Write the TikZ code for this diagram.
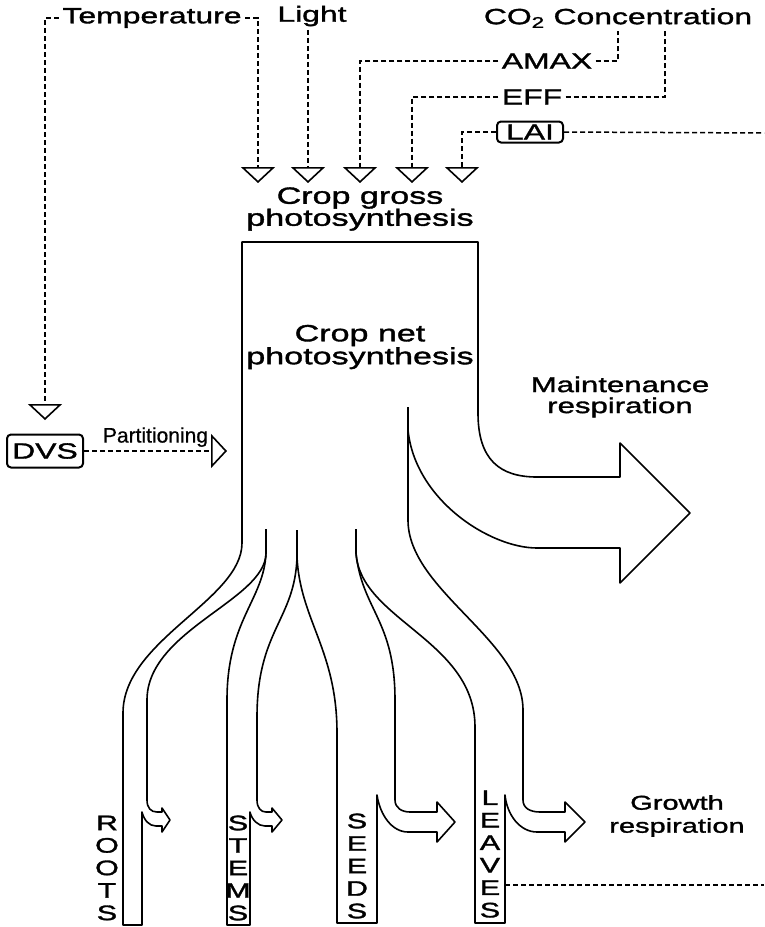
\documentclass[tikz,border=0pt]{standalone}
\usepackage{fontspec}
\setmainfont{Liberation Sans}[FakeStretch=1.45, FakeBold=1.5]
\newfontfamily\partfont{Liberation Sans}[FakeBold=0.6]
\usetikzlibrary{arrows.meta}

\tikzset{
  flow/.style={line width=1.6pt, line join=round},
  dep/.style={line width=1.5pt, dash pattern=on 5pt off 3pt},
  inflow/.style={dep, -{Triangle[open, width=34pt, length=16pt, line width=1.6pt]}},
  varbox/.style={draw, rounded corners=4pt, line width=2pt, inner sep=0pt},
  twoline/.style={align=center, inner sep=0pt},
  barletters/.style={align=center, inner sep=0pt, font=\fontsize{21}{22.5}\selectfont}
}

\begin{document}
\begin{tikzpicture}[x=1pt, y=-1pt, every node/.style={font=\fontsize{22}{22}\selectfont}]
\useasboundingbox (0,0) rectangle (764,927);

% driving variables
\node (temp) at (152,18) {Temperature};
\node (light) at (312,16) {Light};
\node (co2) at (618,18) {CO\textsubscript{2} Concentration};
\node (amax) at (547,61) {AMAX};
\node (eff) at (532,97) {EFF};
\node[varbox, minimum width=66pt, minimum height=21pt] (lai) at (530,132) {LAI};
\node[varbox, minimum width=76pt, minimum height=33pt] (dvs) at (45,451) {DVS};

% process labels
\node[twoline, font=\fontsize{23.5}{22}\selectfont] (gross) at (360,209) {Crop gross\\photosynthesis};
\node[twoline, font=\fontsize{23.5}{21}\selectfont] (net) at (360,347) {Crop net\\photosynthesis};
\node[twoline, font=\fontsize{21.5}{21}\selectfont] (maint) at (620,397) {Maintenance\\respiration};
\node[twoline, font=\fontsize{20}{23}\selectfont] (growth) at (677,816) {Growth\\respiration};

% organ names
\node[barletters] (roots) at (107,868) {R\\O\\O\\T\\S};
\node[barletters] (stems) at (238,868) {S\\T\\E\\M\\S};
\node[barletters] (seeds) at (357,866) {S\\E\\E\\D\\S};
\node[barletters] (leaves) at (490,854) {L\\E\\A\\V\\E\\S};

% triangle tips
\coordinate (tipA) at (258,183);
\coordinate (tipB) at (308,183);
\coordinate (tipC) at (360,183);
\coordinate (tipD) at (412,183);
\coordinate (tipE) at (462,183);
\coordinate (dvstip) at (45,420);
\coordinate (parttip) at (227,451);
\coordinate (laiout) at (764,133);
\coordinate (leafout) at (505,885);
\coordinate (leafend) at (764,885);

% information flows
\draw[inflow] (temp.west) -| (dvstip);
\draw[inflow] (temp.east) -| (tipA);
\draw[inflow] (tipB |- light.south) -- (tipB);
\draw[inflow] (amax.west) -| (tipC);
\draw[dep] (amax.east) -| (co2.south);
\draw[dep] (eff.east) -| ([xshift=47pt]co2.south);
\draw[inflow] (eff.west) -| (tipD);
\draw[inflow] (lai.west) -| (tipE);
\draw[dep] (lai.east) -- (laiout);
\draw[inflow] (dvs.east) -- node[above, font={\partfont\fontsize{21}{21}\selectfont}] (part) {Partitioning} (parttip);
\draw[dep] (leafout) -- (leafend);

% carbon flows
\draw[flow] (266,529) -- (266,553)
  .. controls (266,600) and (147,630) .. (147,700) -- (147,800)
  .. controls (147,808) and (151,812) .. (157,812) -- (162,812) -- (162,808) -- (170,820) -- (162,832) -- (162,826) -- (156,826)
  .. controls (149,826) and (144,820) .. (142,812) -- (142,925) -- (123,925) -- (123,713)
  .. controls (123,640) and (242,600) .. (242,543) -- (242,242) -- (478,242) -- (478,413)
  .. controls (478,460) and (500,477) .. (537,477) -- (620,477) -- (620,443) -- (690,513) -- (620,583) -- (620,548) -- (537,548)
  .. controls (490,548) and (415,500) .. (408,430);
\draw[flow] (408,407) -- (408,520) .. controls (408,590) and (523,640) .. (523,710) -- (523,800)
  .. controls (523,808) and (530,812) .. (540,812) -- (565,812) -- (565,802) -- (585,822) -- (565,842) -- (565,832) -- (537,832)
  .. controls (520,832) and (507,815) .. (505,795) -- (505,923) -- (475,923) -- (475,727)
  .. controls (475,640) and (360,620) .. (356,553) -- (356,529);
\draw[flow] (356,553) .. controls (362,610) and (395,620) .. (395,700) -- (395,800)
  .. controls (395,808) and (402,812) .. (410,812) -- (437,812) -- (437,802) -- (455,822) -- (437,842) -- (437,832) -- (408,832)
  .. controls (392,832) and (380,815) .. (377,795) -- (377,923) -- (337,923) -- (337,733)
  .. controls (337,650) and (300,620) .. (297,557) -- (297,530);
\draw[flow] (297,557) .. controls (295,620) and (257,630) .. (257,717) -- (257,800)
  .. controls (257,808) and (261,812) .. (266,812) -- (272,812) -- (272,808) -- (282,820) -- (272,832) -- (272,826) -- (265,826)
  .. controls (258,826) and (252,820) .. (250,812) -- (250,925) -- (227,925) -- (227,700)
  .. controls (227,620) and (264,600) .. (266,553);
\end{tikzpicture}
\end{document}
